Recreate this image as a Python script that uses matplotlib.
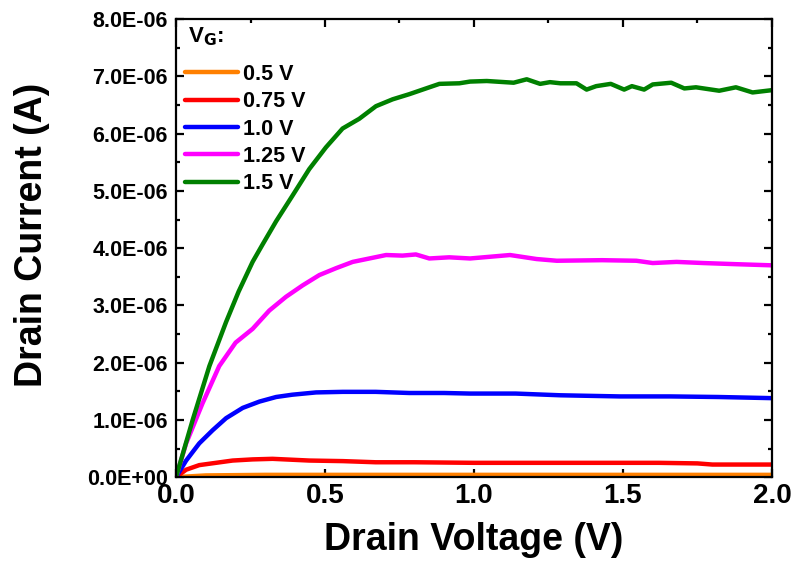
import matplotlib
matplotlib.use("Agg")
import matplotlib.pyplot as plt
from matplotlib.ticker import MultipleLocator, FuncFormatter

plt.rcParams['font.family'] = ['Liberation Sans', 'DejaVu Sans']
plt.rcParams['font.weight'] = 'bold'

labels = ["0.5 V", "0.75 V", "1.0 V", "1.25 V", "1.5 V"]
colors = ["#ff8000", "#ff0000", "#0000ff", "#ff00ff", "#008000"]

v_05 = [0.0, 0.1, 0.3, 0.6, 1.0, 1.4, 1.8, 2.0]
i_05 = [0.0, 0.03, 0.04, 0.04, 0.04, 0.04, 0.04, 0.04]

v_075 = [0.0, 0.034, 0.078, 0.134, 0.19, 0.257, 0.324, 0.447, 0.56, 0.67, 0.8, 1.0, 1.2, 1.4, 1.5, 1.62, 1.75, 1.8, 2.0]
i_075 = [0.0, 0.13, 0.21, 0.25, 0.29, 0.31, 0.32, 0.29, 0.28, 0.26, 0.26, 0.25, 0.25, 0.25, 0.25, 0.25, 0.24, 0.22, 0.22]

v_10 = [0.0, 0.034, 0.078, 0.123, 0.168, 0.224, 0.28, 0.336, 0.39, 0.47, 0.56, 0.67, 0.783, 0.9, 0.987, 1.14, 1.29, 1.49, 1.66, 1.82, 2.0]
i_10 = [0.0, 0.29, 0.59, 0.82, 1.03, 1.21, 1.32, 1.40, 1.44, 1.48, 1.49, 1.49, 1.47, 1.47, 1.46, 1.46, 1.43, 1.41, 1.41, 1.40, 1.38]

v_125 = [0.0, 0.034, 0.089, 0.145, 0.20, 0.257, 0.313, 0.369, 0.425, 0.481, 0.537, 0.593, 0.649, 0.705, 0.76, 0.805, 0.85, 0.917, 0.987,
         1.121, 1.21, 1.278, 1.43, 1.545, 1.6, 1.68, 1.77, 1.88, 2.0]
i_125 = [0.0, 0.59, 1.29, 1.94, 2.35, 2.59, 2.91, 3.15, 3.35, 3.53, 3.65, 3.76, 3.82, 3.88, 3.87, 3.89, 3.82, 3.84, 3.82,
         3.88, 3.81, 3.78, 3.79, 3.78, 3.74, 3.76, 3.74, 3.72, 3.70]

v_15 = [0.0, 0.056, 0.112, 0.168, 0.21, 0.257, 0.29, 0.336, 0.39, 0.447, 0.503, 0.559, 0.615, 0.671, 0.727, 0.783, 0.839, 0.884, 0.951,
        0.987, 1.043, 1.133, 1.177, 1.222, 1.255, 1.29, 1.344, 1.378, 1.41, 1.459, 1.504, 1.53, 1.571, 1.6, 1.662, 1.706, 1.745,
        1.823, 1.879, 1.935, 2.0]
i_15 = [0.0, 1.0, 1.94, 2.71, 3.24, 3.76, 4.06, 4.47, 4.91, 5.38, 5.76, 6.09, 6.26, 6.48, 6.60, 6.69, 6.79, 6.87, 6.88,
        6.91, 6.92, 6.89, 6.95, 6.87, 6.90, 6.88, 6.88, 6.77, 6.83, 6.87, 6.77, 6.83, 6.77, 6.86, 6.89, 6.79, 6.81,
        6.75, 6.81, 6.72, 6.76]

curves = [(v_05, i_05), (v_075, i_075), (v_10, i_10), (v_125, i_125), (v_15, i_15)]

fig = plt.figure(figsize=(7.95, 5.64), dpi=100)
ax = fig.add_axes([0.2214, 0.154, 0.7496, 0.812])

for (v, i), lab, c in zip(curves, labels, colors):
    ax.plot(v, [x * 1e-6 for x in i], color=c, lw=3.2, label=lab, solid_capstyle='round')

ax.set_xlim(0, 2.0)
ax.set_ylim(0, 8e-6)
ax.xaxis.set_major_locator(MultipleLocator(0.5))
ax.xaxis.set_minor_locator(MultipleLocator(0.25))
ax.yaxis.set_major_locator(MultipleLocator(1e-6))
ax.yaxis.set_minor_locator(MultipleLocator(0.5e-6))
ax.xaxis.set_major_formatter(FuncFormatter(lambda x, p: "%.1f" % x))
ax.yaxis.set_major_formatter(FuncFormatter(lambda y, p: "%.1E" % y))

ax.tick_params(which='both', direction='in', top=True, right=True, width=1.6)
ax.tick_params(which='major', length=6)
ax.tick_params(which='minor', length=3)
ax.tick_params(axis='x', which='major', labelsize=20, pad=4)
ax.tick_params(axis='y', which='major', labelsize=15.5, pad=6)
for s in ax.spines.values():
    s.set_linewidth(1.6)

ax.set_xlabel("Drain Voltage (V)", fontsize=27, fontweight='bold')
ax.set_ylabel("Drain Current (A)", fontsize=27, fontweight='bold')
ax.xaxis.set_label_coords(0.5, -0.097)
ax.yaxis.set_label_coords(-0.212, 0.53)

leg = ax.legend(loc='upper left', bbox_to_anchor=(0.015, 0.903), frameon=False, fontsize=15.5,
                handlelength=2.45, handletextpad=0.25, labelspacing=0.3,
                borderaxespad=0, borderpad=0)
ax.text(0.02, 0.95, "V$_\\mathbf{G}$:", transform=ax.transAxes, fontsize=16,
        fontweight='bold', ha='left', va='baseline')

fig.savefig("out.png", dpi=100)
